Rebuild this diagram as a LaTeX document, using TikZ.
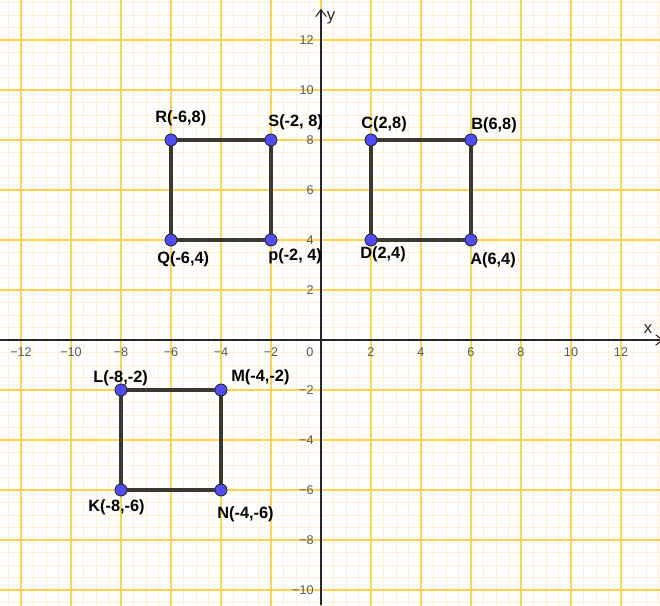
\documentclass[tikz,border=0pt]{standalone}
\usepackage{fontspec}
\setmainfont{Liberation Sans}
\usetikzlibrary{arrows.meta,positioning}
\definecolor{GGminor}{HTML}{FFF0D0}
\definecolor{GGmajor}{HTML}{FFD24D}
\definecolor{GGblue}{HTML}{4D4DFF}
\definecolor{GGedge}{HTML}{3B3830}

\begin{document}
\begin{tikzpicture}[x=0.5cm,y=0.5cm,
  vtx/.style={circle,fill=GGblue,draw=black!85,line width=0.5pt,inner sep=0pt,minimum size=2.4mm},
  lbl/.style={anchor=west,inner sep=0pt,font=\bfseries\fontsize{9.3}{11}\selectfont},
  numlbl/.style={inner sep=0pt,font=\fontsize{7.2}{8}\selectfont,text=black!65},
  seg/.style={GGedge,line width=1.8pt},
  axis/.style={black!85,line width=0.6pt}]
  \clip (-12.84,-10.6) rectangle (13.56,13.6);
  \fill[white] (-12.84,-10.6) rectangle (13.56,13.6);
  % grid
  \draw[GGminor,line width=0.5pt] (-13,-11) grid[step=0.5] (14,14);
  \draw[GGmajor,line width=0.8pt] (-14,-12) grid[step=2] (14,14);
  % axes
  \draw[axis,-{Straight Barb[length=4pt,width=6pt]}] (-12.84,0) -- (13.7,0);
  \draw[axis,-{Straight Barb[length=4pt,width=6pt]}] (0,-10.6) -- (0,13.25);
  \node[font=\fontsize{9.5}{11}\selectfont,text=black!85] (xlab) at (13.08,0.42) {x};
  \node[font=\fontsize{9.5}{11}\selectfont,text=black!85] (ylab) at (0.4,12.9) {y};
  \foreach \n in {2,4,...,12} {
    \node[numlbl] (xp\n) at (\n,-0.48) {\n};
    \node[numlbl] (xm\n) at (-\n,-0.48) {−\n};
  }
  \foreach \n in {2,4,...,12}
    \node[numlbl,anchor=east] (yp\n) at (-0.28,\n) {\n};
  \foreach \n in {2,4,...,10}
    \node[numlbl,anchor=east] (ym\n) at (-0.28,-\n) {−\n};
  \node[numlbl] (org) at (-0.44,-0.48) {0};
  % points
  \foreach \name/\pos in {R/{-6,8},S/{-2,8},Q/{-6,4},P/{-2,4},C/{2,8},B/{6,8},D/{2,4},A/{6,4},L/{-8,-2},M/{-4,-2},K/{-8,-6},N/{-4,-6}}
    \node[vtx] (\name) at (\pos) {};
  \draw[seg] (R) -- (S) -- (P) -- (Q) -- (R);
  \draw[seg] (C) -- (B) -- (A) -- (D) -- (C);
  \draw[seg] (L) -- (M) -- (N) -- (K) -- (L);
  % labels
  \node[lbl] (labR) at (-6.64,8.88) {R(-6,8)};
  \node[lbl] (labS) at (-2.12,8.72) {S(-2, 8)};
  \node[lbl] (labQ) at (-6.56,3.24) {Q(-6,4)};
  \node[lbl] (labP) at (-2.12,3.36) {p(-2, 4)};
  \node[lbl] (labC) at (1.6,8.64) {C(2,8)};
  \node[lbl] (labB) at (6.0,8.57) {B(6,8)};
  \node[lbl] (labD) at (1.56,3.44) {D(2,4)};
  \node[lbl] (labA) at (5.96,3.2) {A(6,4)};
  \node[lbl] (labL) at (-9.12,-1.52) {L(-8,-2)};
  \node[lbl] (labM) at (-3.6,-1.48) {M(-4,-2)};
  \node[lbl] (labK) at (-9.32,-6.68) {K(-8,-6)};
  \node[lbl] (labN) at (-4.16,-6.96) {N(-4,-6)};
\end{tikzpicture}
\end{document}
